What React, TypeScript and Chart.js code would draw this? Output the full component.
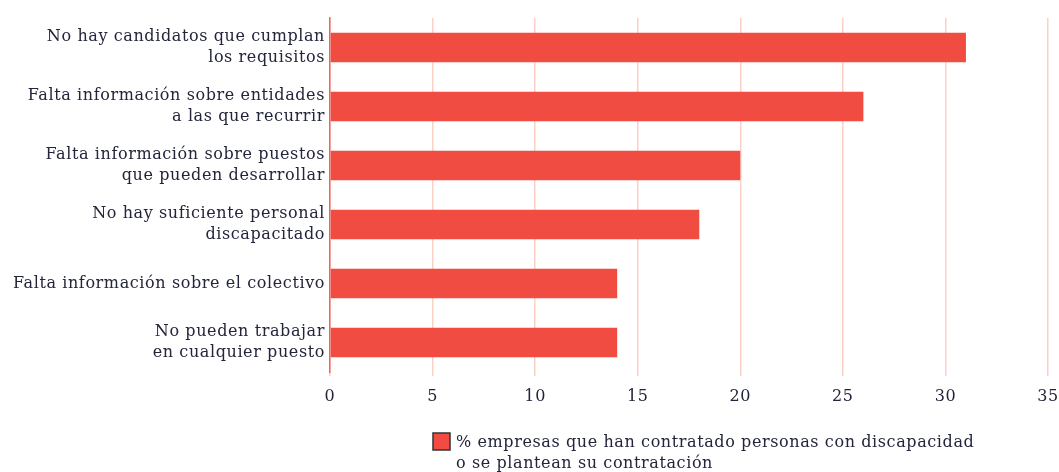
import React, { useEffect, useRef } from "react";
import { Chart, registerables } from "chart.js";

Chart.register(...registerables);

const categories: string[][] = [
  ["No hay candidatos que cumplan", "los requisitos"],
  ["Falta información sobre entidades", "a las que recurrir"],
  ["Falta información sobre puestos", "que pueden desarrollar"],
  ["No hay suficiente personal", "discapacitado"],
  ["Falta información sobre el colectivo"],
  ["No pueden trabajar", "en cualquier puesto"],
];
const values: number[] = [31, 26, 20, 18, 14, 14];
const xMin = 0;
const xMax = 35;
const xStep = 5;
const legendLines: string[] = [
  "% empresas que han contratado personas con discapacidad",
  "o se plantean su contratación",
];

const BAR = "#F04C41";
const TEXT = "#23253a";
const FONT = "'DejaVu Serif', serif";
const SPACING = "0.6px";

const spacingPlugin = {
  id: "letterSpacing",
  beforeUpdate(chart: any) {
    chart.ctx.letterSpacing = SPACING;
  },
  beforeLayout(chart: any) {
    chart.ctx.letterSpacing = SPACING;
  },
  beforeDraw(chart: any) {
    chart.ctx.letterSpacing = SPACING;
  },
};

const legendPlugin = {
  id: "customLegend",
  afterDraw(chart: any) {
    const ctx = chart.ctx;
    ctx.save();
    ctx.letterSpacing = SPACING;
    const bx = 425;
    const by = 425;
    ctx.fillStyle = BAR;
    ctx.fillRect(bx, by, 17, 17);
    ctx.strokeStyle = "#333";
    ctx.lineWidth = 1.5;
    ctx.strokeRect(bx, by, 17, 17);
    ctx.fillStyle = TEXT;
    ctx.font = `16px ${FONT}`;
    ctx.textAlign = "left";
    ctx.textBaseline = "middle";
    legendLines.forEach((t, i) => ctx.fillText(t, 448, 435 + i * 21));
    ctx.restore();
  },
};

export default function App() {
  const ref = useRef<HTMLCanvasElement | null>(null);
  useEffect(() => {
    document.documentElement.style.overflow = "hidden";
    document.body.style.margin = "0";
    document.body.style.overflow = "hidden";
    const chart = new Chart(ref.current!, {
      type: "bar",
      data: {
        labels: categories,
        datasets: [
          {
            label: legendLines.join(" "),
            data: values,
            backgroundColor: BAR,
            borderWidth: 0,
            categoryPercentage: 1,
            barPercentage: 0.5,
          },
        ],
      },
      options: {
        indexAxis: "y",
        animation: false,
        responsive: true,
        maintainAspectRatio: false,
        layout: { padding: { top: 10, bottom: 60, left: 0, right: 0 } },
        plugins: {
          legend: { display: false },
          tooltip: { enabled: false },
        },
        scales: {
          x: {
            min: xMin,
            max: xMax,
            ticks: {
              stepSize: xStep,
              color: TEXT,
              font: { family: FONT, size: 16 },
              padding: 11,
            },
            grid: { color: "#FDD0C6", lineWidth: 1.5, tickLength: 4 },
            border: { display: false },
            afterFit: (s: any) => {
              s.height = 40;
              s.paddingRight = 11;
              s.paddingLeft = 0;
            },
          },
          y: {
            ticks: {
              color: TEXT,
              font: { family: FONT, size: 16, lineHeight: 1.32 },
              padding: 5,
            },
            grid: { display: false, drawTicks: false },
            border: { display: true, color: "#F0645A", width: 1.5 },
            afterFit: (s: any) => {
              s.width = 322;
              s.paddingTop = 0;
              s.paddingBottom = 0;
            },
          },
        },
      },
      plugins: [spacingPlugin, legendPlugin],
    });
    return () => chart.destroy();
  }, []);
  return (
    <div style={{ width: 1051, height: 464, position: "relative", marginLeft: 8, marginTop: 8 }}>
      <canvas ref={ref} />
    </div>
  );
}
